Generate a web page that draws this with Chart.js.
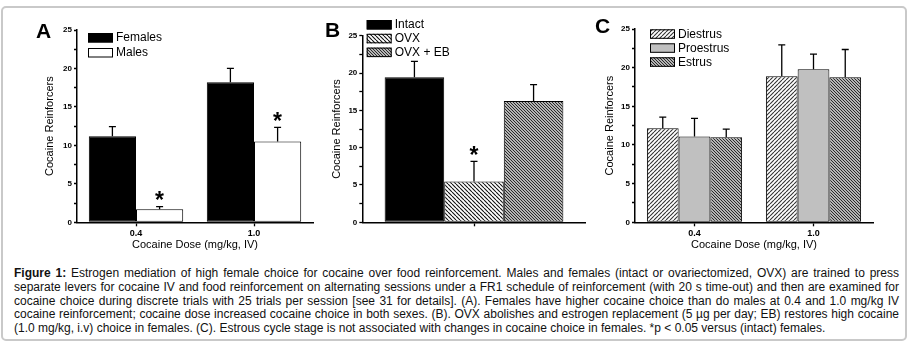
<!DOCTYPE html>
<html>
<head>
<meta charset="utf-8">
<script src="https://cdn.jsdelivr.net/npm/chart.js@4.4.0/dist/chart.umd.min.js"></script>
<style>
body { margin: 0; background: #fff; }
#fig { position: relative; width: 914px; height: 342px; overflow: hidden; font-family: 'Liberation Sans', Arial, sans-serif; }
#frame { position: absolute; left: 1px; top: 6px; width: 906px; height: 335px; box-sizing: border-box; border: 2px solid #c9c9c9; border-radius: 5px; }
canvas { position: absolute; top: 0; }
.letter { position: absolute; font: bold 21px/21px 'Liberation Sans', Arial, sans-serif; }
#caption { position: absolute; left: 14px; top: 267px; width: 885px; font-size: 12px; line-height: 13.8px; color: #111; }
#caption div { white-space: nowrap; text-align: justify; text-align-last: justify; }
#caption div.last { text-align-last: left; }
</style>
</head>
<body>
<div id="fig">
  <div id="frame"></div>
  <canvas id="panelA" width="320" height="258" style="left:0px"></canvas>
  <canvas id="panelB" width="300" height="258" style="left:300px"></canvas>
  <canvas id="panelC" width="324" height="258" style="left:590px"></canvas>
  <div class="letter" style="left:36px; top:20px">A</div>
  <div class="letter" style="left:325px; top:19px">B</div>
  <div class="letter" style="left:595px; top:15px">C</div>
  <div id="caption">
    <div><b>Figure 1:</b> Estrogen mediation of high female choice for cocaine over food reinforcement. Males and females (intact or ovariectomized, OVX) are trained to press</div>
    <div>separate levers for cocaine IV and food reinforcement on alternating sessions under a FR1 schedule of reinforcement (with 20 s time-out) and then are examined for</div>
    <div>cocaine choice during discrete trials with 25 trials per session [see 31 for details]. (A). Females have higher cocaine choice than do males at 0.4 and 1.0 mg/kg IV</div>
    <div>cocaine reinforcement; cocaine dose increased cocaine choice in both sexes. (B). OVX abolishes and estrogen replacement (5 µg per day; EB) restores high cocaine</div>
    <div class="last">(1.0 mg/kg, i.v) choice in females. (C). Estrous cycle stage is not associated with changes in cocaine choice in females. *p &lt; 0.05 versus (intact) females.</div>
  </div>
</div>
<script>
// data
var doseLabels = ['0.4', '1.0'];
var groupLabelB = [''];

// panel A
var femalesA = [11.2, 18.2];
var femalesASem = [1.25, 1.8];
var malesA = [1.7, 10.5];
var malesASem = [0.35, 1.85];
var malesASig = [true, true];

// panel B (1.0 mg/kg)
var intactB = [19.45];
var intactBSem = [2.1];
var ovxB = [5.45];
var ovxBSem = [2.7];
var ovxBSig = [true];
var ovxEbB = [16.25];
var ovxEbBSem = [2.2];

// panel C
var diestrusC = [12.15, 18.9];
var diestrusCSem = [1.45, 4.05];
var proestrusC = [11.1, 19.8];
var proestrusCSem = [2.35, 1.95];
var estrusC = [11.0, 18.75];
var estrusCSem = [1.05, 3.6];

var yMax = 25;
var yMinorStep = 2.5;
var yLabelStep = 5;

var FONT = "'Liberation Sans', Arial, sans-serif";
Chart.defaults.font.family = FONT;
Chart.defaults.color = '#000';

// hatch fills
function stripes(bg, fg, size, lineW, dir) {
    var c = document.createElement('canvas');
    c.width = size; c.height = size;
    var g = c.getContext('2d');
    g.fillStyle = bg;
    g.fillRect(0, 0, size, size);
    g.strokeStyle = fg;
    g.lineWidth = lineW;
    g.beginPath();
    for (var k = -1; k <= 1; k++) {
        if (dir === '\\') { g.moveTo(k * size, 0); g.lineTo(k * size + size, size); }
        else { g.moveTo(k * size, size); g.lineTo(k * size + size, 0); }
    }
    g.stroke();
    return g.createPattern(c, 'repeat');
}
var ovxFill = stripes('#fff', '#111', 4, 1.1, '\\');
var denseFill = stripes('#b4b4b4', '#2a2a2a', 3, 1, '\\');
var diestrusFill = stripes('#fff', '#333', 4, 1.1, '/');

// error bars (upper half only) and significance stars
var semBars = {
    id: 'semBars',
    afterDatasetsDraw: function(chart) {
        var ctx = chart.ctx, y = chart.scales.y;
        chart.data.datasets.forEach(function(ds, i) {
            chart.getDatasetMeta(i).data.forEach(function(bar, j) {
                var top = y.getPixelForValue(ds.data[j] + ds.sem[j]);
                ctx.save();
                ctx.strokeStyle = '#000';
                ctx.lineWidth = 1.3;
                ctx.beginPath();
                ctx.moveTo(bar.x, bar.y);
                ctx.lineTo(bar.x, top);
                ctx.moveTo(bar.x - 3.5, top);
                ctx.lineTo(bar.x + 3.5, top);
                ctx.stroke();
                if (ds.sig && ds.sig[j]) {
                    ctx.font = 'bold 23px ' + FONT;
                    ctx.textAlign = 'center';
                    ctx.textBaseline = 'alphabetic';
                    ctx.fillStyle = '#000';
                    ctx.fillText('*', bar.x, top + 1.5);
                }
                ctx.restore();
            });
        });
    }
};

// legend drawn inside the plot like the original
var boxLegend = {
    id: 'boxLegend',
    afterDraw: function(chart, args, opts) {
        var ctx = chart.ctx;
        chart.data.datasets.forEach(function(ds, i) {
            var top = opts.y + i * opts.row;
            ctx.save();
            ctx.fillStyle = ds.backgroundColor;
            ctx.fillRect(opts.x, top, 25, 9.5);
            ctx.strokeStyle = '#000';
            ctx.lineWidth = 1;
            ctx.strokeRect(opts.x + 0.5, top + 0.5, 24, 8.5);
            ctx.font = '12px ' + FONT;
            ctx.textBaseline = 'middle';
            ctx.textAlign = 'left';
            ctx.fillStyle = '#000';
            ctx.fillText(ds.label, opts.x + 28, top + 5);
            ctx.restore();
        });
    }
};

function makePanel(id, labels, datasets, area, extra) {
    var cv = document.getElementById(id);
    var W = cv.width, H = cv.height, xH = 32;
    return new Chart(cv, {
        type: 'bar',
        data: { labels: labels, datasets: datasets },
        options: {
            responsive: false,
            animation: false,
            devicePixelRatio: 1,
            layout: { padding: { left: 0, top: area.top, right: W - area.right, bottom: H - area.bottom - xH } },
            plugins: { legend: { display: false }, tooltip: { enabled: false }, boxLegend: extra.legend },
            datasets: { bar: { categoryPercentage: 0.8, barPercentage: 1, borderColor: '#000', borderWidth: 1, borderSkipped: false } },
            scales: {
                x: {
                    grid: { offset: false, drawOnChartArea: false, tickLength: 4, color: '#000', tickWidth: 1.3 },
                    border: { color: '#000', width: 1.5 },
                    ticks: { font: { size: 9, weight: 'bold' }, padding: 2, maxRotation: 0 },
                    title: { display: !!extra.xTitle, text: extra.xTitle || '', font: { size: 11 }, padding: { top: 0, bottom: 2.7 } },
                    afterFit: function(s) { s.height = xH; }
                },
                y: {
                    min: 0, max: yMax,
                    grid: { drawOnChartArea: false, tickLength: 3, color: '#000', tickWidth: 1.3 },
                    border: { color: '#000', width: 1.5 },
                    ticks: {
                        stepSize: yMinorStep, padding: 2, font: { size: 8, weight: 'bold' },
                        callback: function(v) { return v % yLabelStep === 0 ? v : ''; }
                    },
                    title: { display: true, text: 'Cocaine Reinforcers', font: { size: 11 }, padding: { top: extra.yTitlePad, bottom: 0 } },
                    afterFit: function(s) { s.width = area.left; }
                }
            }
        },
        plugins: [semBars, boxLegend]
    });
}

makePanel('panelA', doseLabels, [
    { label: 'Females', data: femalesA, sem: femalesASem, backgroundColor: '#000' },
    { label: 'Males', data: malesA, sem: malesASem, sig: malesASig, backgroundColor: '#fff' }
], { left: 77, right: 313, top: 30, bottom: 222.3 },
   { xTitle: 'Cocaine Dose (mg/kg, IV)', yTitlePad: 43, legend: { x: 88, y: 33, row: 15 } });

makePanel('panelB', groupLabelB, [
    { label: 'Intact', data: intactB, sem: intactBSem, backgroundColor: '#000' },
    { label: 'OVX', data: ovxB, sem: ovxBSem, sig: ovxBSig, backgroundColor: ovxFill },
    { label: 'OVX + EB', data: ovxEbB, sem: ovxEbBSem, backgroundColor: denseFill }
], { left: 62.3, right: 285.7, top: 35.7, bottom: 222.3 },
   { xTitle: '', yTitlePad: 30, legend: { x: 66.7, y: 20, row: 13.8 } });

makePanel('panelC', doseLabels, [
    { label: 'Diestrus', data: diestrusC, sem: diestrusCSem, backgroundColor: diestrusFill },
    { label: 'Proestrus', data: proestrusC, sem: proestrusCSem, backgroundColor: '#c0c0c0' },
    { label: 'Estrus', data: estrusC, sem: estrusCSem, backgroundColor: denseFill }
], { left: 45, right: 283, top: 29, bottom: 222.3 },
   { xTitle: 'Cocaine Dose (mg/kg, IV)', yTitlePad: 13, legend: { x: 60, y: 29.3, row: 14 } });
</script>
</body>
</html>
